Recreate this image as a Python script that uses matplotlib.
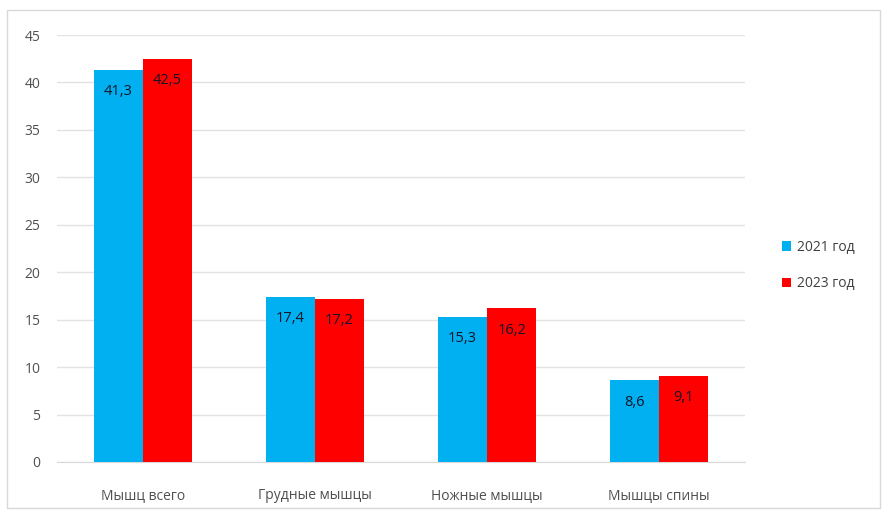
import matplotlib
matplotlib.use("Agg")
import matplotlib.pyplot as plt
from matplotlib.patches import Rectangle
import numpy as np

categories = ["Мышц всего", "Грудные мышцы", "Ножные мышцы", "Мышцы спины"]
values_2021 = [41.3, 17.4, 15.3, 8.6]
values_2023 = [42.5, 17.2, 16.2, 9.1]
series_names = ["2021 год", "2023 год"]
y_ticks = [0, 5, 10, 15, 20, 25, 30, 35, 40, 45]

plt.rcParams["font.family"] = ["Open Sans", "DejaVu Sans"]

fig = plt.figure(figsize=(8.85, 5.12), dpi=100)
fig.patch.set_facecolor("white")
fig.add_artist(Rectangle((0.008, 0.008), 0.986, 0.972, transform=fig.transFigure,
                         fill=False, edgecolor="#D9D9D9", linewidth=1.0))

ax = fig.add_axes([0.0644, 0.0977, 0.7776, 0.8339])
x = np.arange(len(categories))
w = 0.285
b1 = ax.bar(x - w / 2, values_2021, w, color="#00B0F0", label=series_names[0], zorder=3)
b2 = ax.bar(x + w / 2, values_2023, w, color="#FF0000", label=series_names[1], zorder=3)

for bars, vals in ((b1, values_2021), (b2, values_2023)):
    for rect, v in zip(bars, vals):
        ax.text(rect.get_x() + rect.get_width() / 2, v - 2.3,
                f"{v:.1f}".replace(".", ","), ha="center", va="center",
                fontsize=10.5, color="#14142A", fontweight="medium", zorder=4)

ax.set_xlim(-0.5, 3.5)
ax.set_ylim(0, 45)
ax.set_yticks(y_ticks)
ax.set_xticks(x)
ax.set_xticklabels(categories)
ax.tick_params(axis="both", length=0, labelsize=10, colors="#505050")
ax.tick_params(axis="x", pad=19)
ax.tick_params(axis="y", pad=12)
ax.yaxis.grid(True, color="#E3E3E3", linewidth=1.0, zorder=0)
for s in ("top", "right", "left"):
    ax.spines[s].set_visible(False)
ax.spines["bottom"].set_color("#D9D9D9")

ax.legend(loc="center left", bbox_to_anchor=(1.035, 0.46), frameon=False,
          fontsize=10, labelcolor="#404040", handlelength=0.7, handleheight=0.7,
          handletextpad=0.4, labelspacing=1.55)

fig.savefig("out.png", dpi=100)
